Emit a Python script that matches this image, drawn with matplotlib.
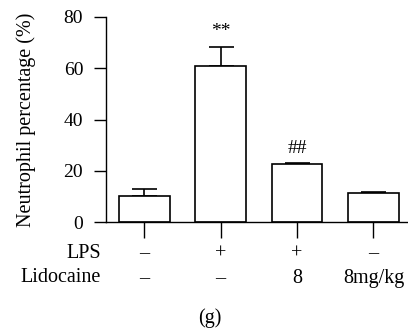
import matplotlib
matplotlib.use("Agg")
import matplotlib.pyplot as plt
import matplotlib.transforms as mtransforms

groups = ["G1", "G2", "G3", "G4"]
means = [10.3, 60.8, 22.5, 11.4]
errors = [2.5, 7.4, 0.7, 0.4]
lps_labels = ["–", "+", "+", "–"]
lido_labels = ["–", "–", "8", "8mg/kg"]
sig_labels = ["", "**", "##", ""]
yticks = [0, 20, 40, 60, 80]

plt.rcParams['font.family'] = ['Liberation Serif', 'DejaVu Serif']

fig = plt.figure(figsize=(4.08, 3.32), dpi=100)
ax = fig.add_axes([0.26, 0.3313, 0.7375, 0.6175])

x = list(range(len(groups)))
ax.bar(x, means, width=0.665, color="white", edgecolor="black", linewidth=1.2, zorder=2)
ax.errorbar(x, means, yerr=[[0]*len(errors), errors], fmt="none", ecolor="black",
            elinewidth=1.2, capsize=9, capthick=1.2, zorder=1)

sig_offsets = [0, 3.0, 2.0, 0]
for xi, m, e, s, off in zip(x, means, errors, sig_labels, sig_offsets):
    if s:
        ax.text(xi, m + e + off, s, ha="center", va="bottom", fontsize=14)

ax.set_xlim(-0.5, 3.44)
ax.set_ylim(0, 80)
ax.set_yticks(yticks)
ax.set_xticks(x)
ax.set_xticklabels([""] * len(x))
ax.tick_params(axis="x", length=11.5, width=1.0, direction="out")
ax.tick_params(axis="y", length=8.5, width=1.0, labelsize=14, pad=8)
ax.spines["top"].set_visible(False)
ax.spines["right"].set_visible(False)
ax.spines["left"].set_linewidth(1.0)
ax.spines["bottom"].set_linewidth(1.0)
ax.set_ylabel("Neutrophil percentage (%)", fontsize=14.5)
ax.yaxis.set_label_coords(-0.233, 0.5)

trans = mtransforms.blended_transform_factory(ax.transData, ax.transAxes)
row_y = [-0.155, -0.275]
for xi, a, b in zip(x, lps_labels, lido_labels):
    ax.text(xi, row_y[0], a, transform=trans, ha="center", va="center", fontsize=14.5)
    ax.text(xi, row_y[1], b, transform=trans, ha="center", va="center", fontsize=14.5)

fig.text(101/408, 1 - 253/332, "LPS", ha="right", va="center", fontsize=14.5)
fig.text(101/408, 1 - 277/332, "Lidocaine", ha="right", va="center", fontsize=14.5)
fig.text(210/408, 1 - 318/332, "(g)", ha="center", va="center", fontsize=14.5)

fig.savefig("out.png", dpi=100)
